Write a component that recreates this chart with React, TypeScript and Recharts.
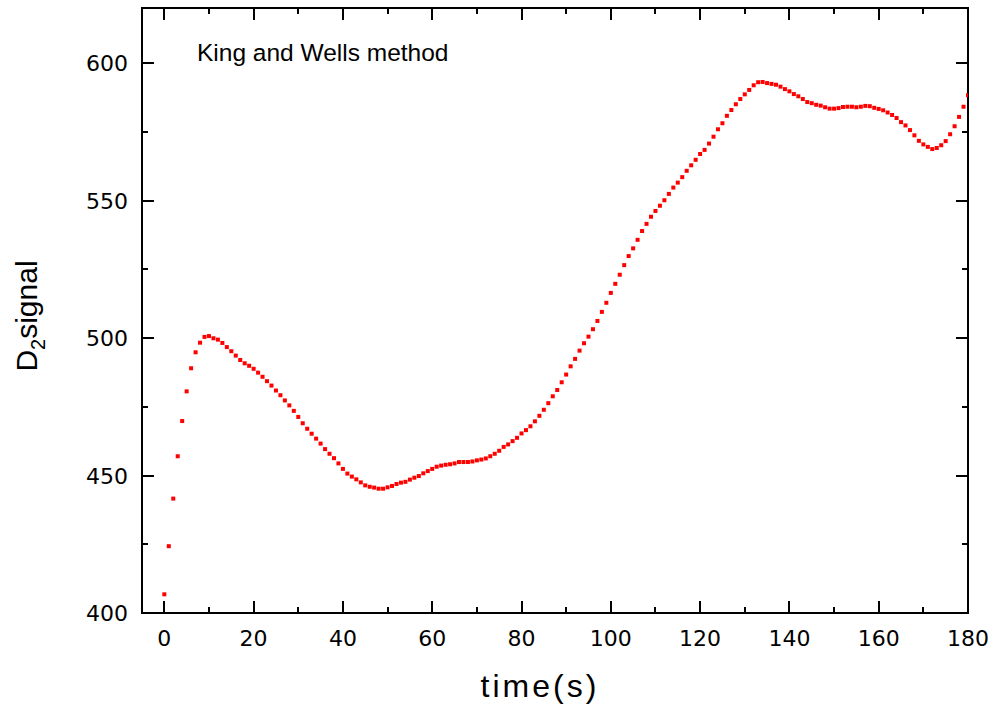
import { ReferenceLine, Scatter, ScatterChart, XAxis, YAxis } from "recharts";

const TIME_START = 0;
const TIME_STEP = 1;
const signal = [
  406.8, 424.3, 441.6, 457.0, 469.8, 480.6, 489.0, 494.8, 498.3, 500.4,
  500.7, 499.9, 499.4, 498.2, 496.7, 495.2, 493.6, 492.0, 490.8, 489.9,
  488.8, 487.4, 485.9, 484.3, 482.7, 480.9, 479.2, 477.3, 475.5, 473.5,
  471.3, 469.0, 467.0, 465.2, 463.4, 461.6, 459.6, 457.9, 456.3, 454.4,
  452.4, 450.7, 449.6, 448.6, 447.5, 446.4, 445.9, 445.6, 445.2, 445.2,
  445.7, 446.2, 446.9, 447.4, 447.7, 448.5, 449.2, 449.8, 450.8, 451.6,
  452.4, 453.2, 453.6, 453.9, 454.1, 454.4, 454.9, 454.9, 454.9, 455.1,
  455.5, 455.8, 456.2, 457.0, 457.9, 459.0, 460.4, 461.3, 462.5, 463.7,
  465.3, 466.5, 467.9, 469.7, 471.7, 473.9, 476.3, 478.8, 481.1, 483.9,
  486.7, 489.7, 492.4, 495.4, 498.1, 500.5, 503.2, 506.2, 509.5, 512.8,
  516.4, 519.7, 523.0, 526.5, 529.8, 532.6, 535.7, 538.9, 541.5, 544.1,
  546.2, 548.1, 550.1, 552.4, 554.7, 556.5, 558.5, 560.8, 562.8, 564.8,
  566.9, 568.4, 570.7, 573.2, 575.9, 578.1, 580.8, 582.9, 585.0, 586.9,
  588.6, 590.2, 591.9, 593.0, 593.1, 592.7, 592.4, 592.1, 591.4, 590.5,
  589.7, 588.7, 587.9, 586.9, 585.8, 585.4, 584.8, 584.5, 583.9, 583.4,
  583.4, 583.6, 584.0, 584.1, 584.1, 583.9, 584.1, 584.4, 584.3, 583.7,
  583.3, 582.8, 582.0, 581.1, 580.0, 578.5, 577.3, 575.6, 573.7, 571.7,
  570.4, 569.5, 568.7, 569.1, 570.1, 571.6, 574.1, 577.0, 580.4, 584.1,
  588.3,
];

const xTicks = [0, 10, 20, 30, 40, 50, 60, 70, 80, 90, 100, 110, 120, 130, 140, 150, 160, 170, 180];
const xMajor = [0, 20, 40, 60, 80, 100, 120, 140, 160, 180];
const yTicks = [400, 425, 450, 475, 500, 525, 550, 575, 600];
const yMajor = [400, 450, 500, 550, 600];
const xDomain = [-5, 180];
const yDomain = [400, 620];

const title = "King and Wells method";
const xTitle = "time(s)";

const data = signal.map((v, i) => ({ t: TIME_START + i * TIME_STEP, v }));

const MAJOR_LEN = 12;
const MINOR_LEN = 6;
const PX_PER_Y = 605 / (yDomain[1] - yDomain[0]); // plot height / y span
const tickFont = { fontFamily: "DejaVu Sans", fontSize: 22, fill: "#000" };
const frame = { stroke: "#000", strokeWidth: 2, strokeLinecap: "square" as const };

function BottomTick({ x, y, payload }: any) {
  const major = xMajor.includes(payload.value);
  const px = Math.round(x);
  return (
    <g>
      <line
        x1={px}
        y1={y}
        x2={px}
        y2={y - (major ? MAJOR_LEN : MINOR_LEN)}
        stroke="#000"
        strokeWidth={2}
        shapeRendering="crispEdges"
      />
      {major && (
        <text x={x} y={y + 33} textAnchor="middle" {...tickFont}>
          {payload.value}
        </text>
      )}
    </g>
  );
}

function LeftTick({ x, y, payload }: any) {
  const major = yMajor.includes(payload.value);
  return (
    <g>
      <line
        x1={x}
        y1={y}
        x2={x + (major ? MAJOR_LEN : MINOR_LEN)}
        y2={y}
        stroke="#000"
        strokeWidth={2}
        shapeRendering="crispEdges"
      />
      {major && (
        <text x={x - 14} y={y + 8} textAnchor="end" {...tickFont}>
          {payload.value}
        </text>
      )}
    </g>
  );
}

function RightTick({ x, y, payload }: any) {
  const major = yMajor.includes(payload.value);
  return (
    <line
      x1={x}
      y1={y}
      x2={x - (major ? MAJOR_LEN : MINOR_LEN)}
      y2={y}
      stroke="#000"
      strokeWidth={2}
      shapeRendering="crispEdges"
    />
  );
}

function Square({ cx, cy }: any) {
  return <rect x={cx - 2} y={cy - 2} width={4} height={4} fill="#ff0000" />;
}

export default function App() {
  return (
    <div style={{ position: "absolute", left: 0, top: 0, width: 994, height: 709, background: "#fff" }}>
      <ScatterChart width={994} height={709} margin={{ top: 6, right: 24, left: 42, bottom: 26 }}>
        <XAxis
          xAxisId="bottom"
          dataKey="t"
          type="number"
          domain={xDomain}
          allowDataOverflow
          ticks={xTicks}
          interval={0}
          height={70}
          tickSize={0}
          tickMargin={0}
          tickLine={false}
          axisLine={frame}
          tick={<BottomTick />}
        />
        <XAxis
          xAxisId="top"
          orientation="top"
          dataKey="t"
          type="number"
          domain={xDomain}
          allowDataOverflow
          height={2}
          tickLine={false}
          axisLine={frame}
          tick={false}
        />
        <YAxis
          yAxisId="left"
          dataKey="v"
          type="number"
          domain={yDomain}
          allowDataOverflow
          ticks={yTicks}
          interval={0}
          width={100}
          tickSize={0}
          tickMargin={0}
          tickLine={false}
          axisLine={frame}
          tick={<LeftTick />}
        />
        <YAxis
          yAxisId="right"
          orientation="right"
          dataKey="v"
          type="number"
          domain={yDomain}
          allowDataOverflow
          ticks={yTicks}
          interval={0}
          width={2}
          tickSize={0}
          tickMargin={0}
          tickLine={false}
          axisLine={frame}
          tick={<RightTick />}
        />
        {/* inward ticks along the top frame */}
        {xTicks.map((t) => {
          const len = (xMajor.includes(t) ? MAJOR_LEN : MINOR_LEN) / PX_PER_Y;
          return (
            <ReferenceLine
              key={`top-${t}`}
              xAxisId="bottom"
              yAxisId="left"
              segment={[
                { x: t, y: yDomain[1] },
                { x: t, y: yDomain[1] - len },
              ]}
              stroke="#000"
              strokeWidth={2}
              shapeRendering="crispEdges"
              ifOverflow="visible"
            />
          );
        })}
        <Scatter
          xAxisId="bottom"
          yAxisId="left"
          data={data}
          fill="#ff0000"
          shape={<Square />}
          isAnimationActive={false}
        />
        <text x={197} y={61} fontFamily="Liberation Sans" fontSize={24.5} fill="#000">
          {title}
        </text>
        <text
          x={540}
          y={697}
          textAnchor="middle"
          fontFamily="Liberation Sans"
          fontSize={32}
          letterSpacing={3}
          fill="#000"
        >
          {xTitle}
        </text>
        <text
          transform="rotate(-90, 37, 316)"
          x={37}
          y={316}
          textAnchor="middle"
          fontFamily="Liberation Sans"
          fontSize={30}
          fill="#000"
        >
          D
          <tspan fontSize={20} dy={8}>
            2
          </tspan>
          <tspan dy={-8}>signal</tspan>
        </text>
      </ScatterChart>
    </div>
  );
}
